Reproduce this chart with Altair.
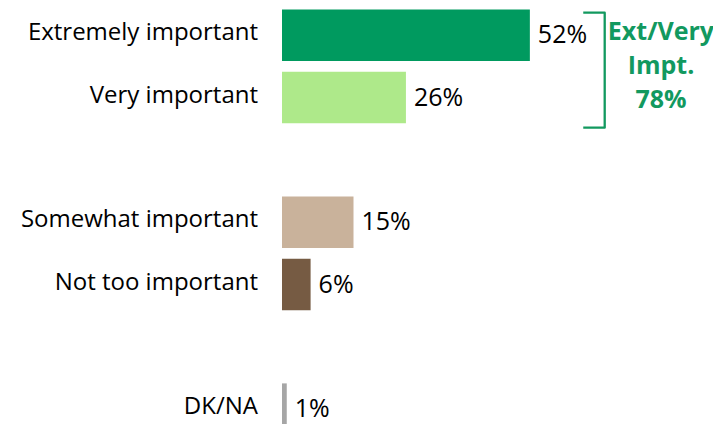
import altair as alt
import pandas as pd

categories = ["Extremely important", "Very important", "Somewhat important", "Not too important", "DK/NA"]
values = [52, 26, 15, 6, 1]
slots = [0, 1, 3, 4, 6]
colors = ["#009A5F", "#AEE98A", "#C9B29B", "#765B43", "#A6A6A6"]

net_lines = ["Ext/Very", "Impt.", "78%"]
net_color = "#12995F"

# bracket path (data units: x in %, y in row slots)
bracket_x = [63.2, 67.7, 67.7, 63.2]
bracket_y = [-0.363, -0.363, 1.483, 1.483]

half = 0.413
df = pd.DataFrame({
    "cat": categories,
    "value": values,
    "slot": slots,
    "x0": [0] * len(values),
    "label": [f"{v}%" for v in values],
})
df["y0"] = df["slot"] - half
df["y1"] = df["slot"] + half

xs = alt.Scale(domain=[0, 90], nice=False, zero=False)
ys = alt.Scale(domain=[-0.438, 5.982], nice=False, zero=False, reverse=True)

base = alt.Chart(df)

bars = base.mark_bar().encode(
    x=alt.X("x0:Q", scale=xs, axis=None),
    x2="value:Q",
    y=alt.Y("y0:Q", scale=ys, axis=None),
    y2="y1:Q",
    color=alt.Color("cat:N", scale=alt.Scale(domain=categories, range=colors), legend=None),
)

cat_text = base.mark_text(align="right", baseline="middle", font="Open Sans", fontSize=24,
                          color="#000000", dy=-2).encode(
    x=alt.value(-24),
    y=alt.Y("slot:Q", scale=ys, axis=None),
    text="cat:N",
)

val_text = base.mark_text(align="left", baseline="middle", font="Open Sans", fontSize=25,
                          color="#000000", dx=8, dy=0).encode(
    x=alt.X("value:Q", scale=xs, axis=None),
    y=alt.Y("slot:Q", scale=ys, axis=None),
    text="label:N",
)

bdf = pd.DataFrame({"bx": bracket_x, "by": bracket_y, "order": list(range(len(bracket_x)))})
bracket = alt.Chart(bdf).mark_line(color=net_color, strokeWidth=2.3, strokeJoin="round").encode(
    x=alt.X("bx:Q", scale=xs, axis=None),
    y=alt.Y("by:Q", scale=ys, axis=None),
    order="order:Q",
)

ndf = pd.DataFrame({"nx": [79.5], "ny": [0.5]})
net_text = alt.Chart(ndf).mark_text(align="center", baseline="middle", font="Open Sans",
                                    fontSize=25, fontWeight="bold", color=net_color,
                                    lineHeight=34, dy=-34).encode(
    x=alt.X("nx:Q", scale=xs, axis=None),
    y=alt.Y("ny:Q", scale=ys, axis=None),
    text=alt.value(net_lines),
)

chart = alt.layer(bars, cat_text, val_text, bracket, net_text).properties(
    width=429,
    height=400,
    autosize=alt.AutoSizeParams(type="none"),
    padding={"left": 274, "top": 0, "right": 2, "bottom": 16},
).configure_view(stroke=None)

chart.save("out.html", embed_options={"renderer": "svg", "actions": False})
